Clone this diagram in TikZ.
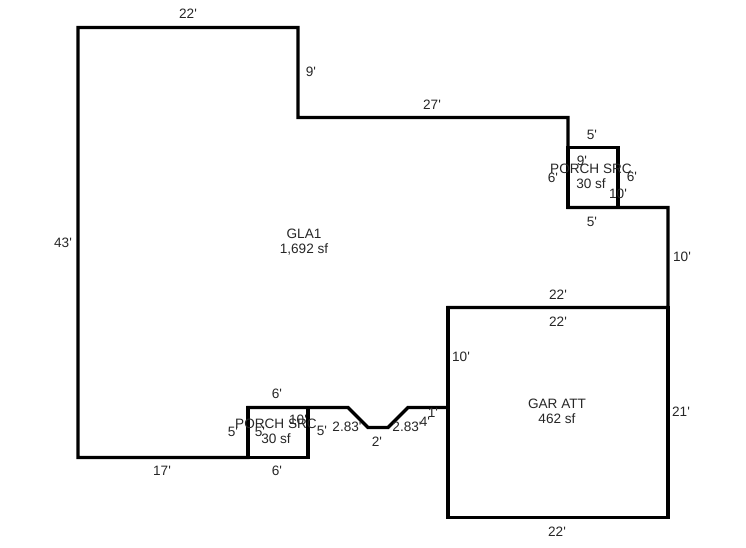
\documentclass[tikz,border=0pt]{standalone}
\usepackage{fontspec}
\setmainfont[Ligatures=TeXOff]{Liberation Sans}
\begin{document}
\begin{tikzpicture}
	[x=1pt,y=-1pt,
	wall/.style={draw=black,line width=3.3pt,line join=miter},
	lbl/.style={font=\fontsize{13.6}{15}\selectfont,inner sep=0pt,text=black!85,align=center}]
	\useasboundingbox (0,0) rectangle (746,547);
	% living area
	\draw[wall] (78,27.5) -- (298,27.5) -- (298,117.5) -- (568,117.5) -- (568,207.5) -- (668,207.5) -- (668,307.5)
		-- (448,307.5) -- (448,407.5) -- (408,407.5) -- (388,427.5) -- (368,427.5) -- (348,407.5) -- (248,407.5)
		-- (248,457.5) -- (78,457.5) -- cycle;
	% garage and porches
	\draw[wall] (448,307.5) rectangle (668,517.5);
	\draw[wall] (248,407.5) rectangle (308,457.5);
	\draw[wall] (568,147.5) rectangle (618,207.5);
	% areas
	\node[lbl] (gla) at (304,242) {GLA1\\1,692 sf};
	\node[lbl] (gar) at (557,411.5) {GAR ATT\\462 sf};
	\node[lbl] (porchlow) at (276,431.5) {PORCH SRC\\30 sf};
	\node[lbl] (porchup) at (591,176.5) {PORCH SRC\\30 sf};
	% outer dimensions
	\node[lbl] (d1) at (188,13.5) {22'};
	\node[lbl] (d2) at (311,71.5) {9'};
	\node[lbl] (d3) at (432,104.5) {27'};
	\node[lbl] (d4) at (63,242.5) {43'};
	\node[lbl] (d5) at (162,470.5) {17'};
	\node[lbl] (d6) at (682,256.5) {10'};
	\node[lbl] (d7) at (681,411.5) {21'};
	\node[lbl] (d8) at (557,531.5) {22'};
	\node[lbl] (d9) at (558,294.5) {22'};
	\node[lbl] (d10) at (558,321.5) {22'};
	\node[lbl] (d11) at (461,356.5) {10'};
	% upper porch
	\node[lbl] (u1) at (592,134.5) {5'};
	\node[lbl] (u2) at (592,221.5) {5'};
	\node[lbl] (u3) at (553,177.5) {6'};
	\node[lbl] (u4) at (632,176.5) {6'};
	\node[lbl] (u5) at (582,160.5) {9'};
	\node[lbl] (u6) at (618,193.5) {10'};
	% lower porch
	\node[lbl] (l1) at (277,393.5) {6'};
	\node[lbl] (l2) at (277,470.5) {6'};
	\node[lbl] (l3) at (233,431.5) {5'};
	\node[lbl] (l4) at (260,431.5) {5'};
	\node[lbl] (l5) at (322,430.5) {5'};
	\node[lbl] (l6) at (298,419.5) {10'};
	% angled run
	\node[lbl] (a1) at (347,426.5) {2.83'};
	\node[lbl] (a2) at (407,426.5) {2.83'};
	\node[lbl] (a3) at (377,441.5) {2'};
	\node[lbl] (a4) at (425,421.5) {4'};
	\node[lbl] (a5) at (433,412.5) {1'};
\end{tikzpicture}
\end{document}
